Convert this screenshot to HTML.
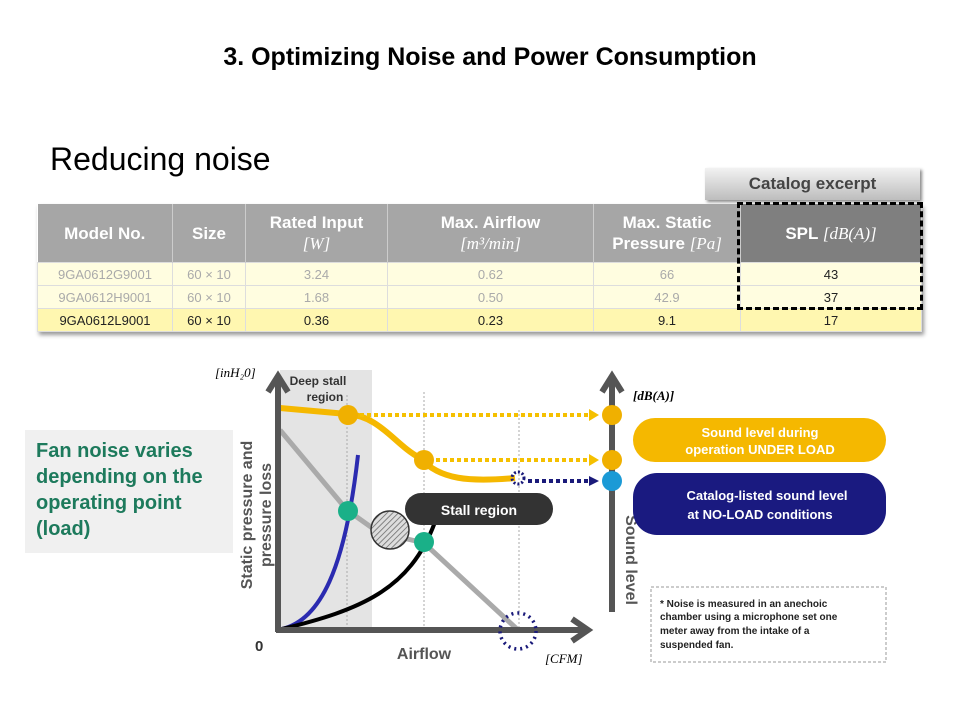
<!DOCTYPE html>
<html><head><meta charset="utf-8"><style>
body{margin:0;width:960px;height:720px;background:#fff;font-family:"Liberation Sans",sans-serif;position:relative;overflow:hidden}
.a{position:absolute}
table{border-collapse:collapse;table-layout:fixed;position:absolute;left:37px;top:204px;width:884px;box-shadow:2px 3px 4px #999}
th{background:#a6a6a6;color:#fff;font-size:17px;font-weight:bold;height:58px;padding:0;border-right:1px solid #ccc;line-height:21px}
th.s{background:#7f7f7f}
td{background:#fffde0;color:#aaa;font-size:13px;text-align:center;height:22px;padding:0;border:1px solid #ddd}
tr.b td{background:#fff7b0;color:#222}
.m{font-family:"Liberation Serif",serif;font-style:italic;font-weight:normal}
</style></head><body>
<div class="a" style="left:0;width:980px;top:43px;text-align:center;font-size:25px;font-weight:bold">3. Optimizing Noise and Power Consumption</div>
<div class="a" style="left:50px;top:141px;font-size:32px">Reducing noise</div>
<div class="a" style="left:705px;top:168px;width:215px;height:32px;background:linear-gradient(#f2f2f2,#bdbdbd);box-shadow:2px 2px 3px #888;text-align:center;line-height:32px;font-size:17px;font-weight:bold;color:#444">Catalog excerpt</div>
<table>
<colgroup><col style="width:135px"><col style="width:73px"><col style="width:142px"><col style="width:206px"><col style="width:147px"><col style="width:181px"></colgroup>
<tr><th>Model No.</th><th>Size</th><th>Rated Input<br><span class="m">[W]</span></th><th>Max. Airflow<br><span class="m">[m³/min]</span></th><th>Max. Static<br>Pressure <span class="m">[Pa]</span></th><th class="s">SPL <span class="m">[dB(A)]</span></th></tr>
<tr><td>9GA0612G9001</td><td>60 × 10</td><td>3.24</td><td>0.62</td><td>66</td><td style="color:#222">43</td></tr>
<tr><td>9GA0612H9001</td><td>60 × 10</td><td>1.68</td><td>0.50</td><td>42.9</td><td style="color:#222">37</td></tr>
<tr class="b"><td>9GA0612L9001</td><td>60 × 10</td><td>0.36</td><td>0.23</td><td>9.1</td><td>17</td></tr>
</table>
<div class="a" style="left:737px;top:202px;width:180px;height:102px;border:3px dashed #000"></div>

<div class="a" style="left:25px;top:430px;width:208px;height:123px;background:#f0f0f0"></div>
<div class="a" style="left:36px;top:438px;font-size:20px;font-weight:bold;color:#1d7a5c;line-height:26px">Fan noise varies<br>depending on the<br>operating point<br>(load)</div>

<svg class="a" style="left:0;top:0" width="960" height="720">
<defs><pattern id="h" width="4" height="4" patternUnits="userSpaceOnUse" patternTransform="rotate(45)"><rect width="4" height="4" fill="#ddd"/><line x1="0" y1="0" x2="0" y2="4" stroke="#666" stroke-width="1.5"/></pattern></defs>
<rect x="280" y="370" width="92" height="260" fill="#e4e4e4"/>
<g stroke="#aaa" stroke-dasharray="2,2"><line x1="347" y1="395" x2="347" y2="630"/><line x1="424" y1="392" x2="424" y2="630"/><line x1="519" y1="410" x2="519" y2="630"/></g>
<path d="M280,408 L347,414 C380,416 395,445 420,458 C440,480 470,482 515,478" stroke="#f5b800" stroke-width="6" fill="none"/>
<path d="M280,430 L347,510 L378,532 L424,543 L518,630" stroke="#aaa" stroke-width="5" fill="none"/>
<path d="M282,629 C320,620 345,570 358,455" stroke="#2b2bb0" stroke-width="4" fill="none"/>
<path d="M282,629 C360,610 410,590 435,522" stroke="#000" stroke-width="4" fill="none"/>
<circle cx="390" cy="530" r="19" fill="url(#h)" stroke="#333" stroke-width="1.5"/>
<rect x="405" y="493" width="148" height="32" rx="16" fill="#333"/>
<text x="479" y="515" fill="#fff" font-size="14" font-weight="bold" text-anchor="middle">Stall region</text>
<path d="M278,632 V380 M268,392 L278,376 L288,392" stroke="#555" stroke-width="6" fill="none"/>
<path d="M276,630 H585 M572,619 L588,630 L572,641" stroke="#555" stroke-width="6" fill="none"/>
<path d="M612,612 V378 M602,392 L612,376 L622,392" stroke="#555" stroke-width="6" fill="none"/>
<g stroke-width="4" stroke-dasharray="4,3" fill="none"><line x1="360" y1="415" x2="590" y2="415" stroke="#f5c000"/><line x1="436" y1="460" x2="590" y2="460" stroke="#f5c000"/><line x1="528" y1="481" x2="590" y2="481" stroke="#1a1a7a"/></g>
<path d="M589,409 L599,415 L589,421Z M589,454 L599,460 L589,466Z" fill="#f5c000"/><path d="M589,476 L599,481 L589,486Z" fill="#1a1a7a"/>
<circle cx="518" cy="478" r="6" fill="none" stroke="#1a1a7a" stroke-width="3" stroke-dasharray="2,2"/>
<circle cx="518" cy="631" r="18" fill="none" stroke="#1a1a7a" stroke-width="3.5" stroke-dasharray="2,4"/>
<g fill="#f0b000"><circle cx="348" cy="415" r="10"/><circle cx="424" cy="460" r="10"/><circle cx="612" cy="415" r="10"/><circle cx="612" cy="460" r="10"/></g>
<circle cx="612" cy="481" r="10" fill="#1b9ad6"/>
<g fill="#1ab088"><circle cx="348" cy="511" r="10"/><circle cx="424" cy="542" r="10"/></g>
<text x="318" y="385" font-size="12" font-weight="bold" fill="#333" text-anchor="middle">Deep stall</text>
<text x="325" y="401" font-size="12" font-weight="bold" fill="#333" text-anchor="middle">region</text>
<text x="215" y="377" font-size="13" font-family="Liberation Serif" font-style="italic">[inH₂0]</text>
<text x="633" y="400" font-size="13" font-family="Liberation Serif" font-style="italic" font-weight="bold">[dB(A)]</text>
<text x="545" y="663" font-size="13" font-family="Liberation Serif" font-style="italic">[CFM]</text>
<text x="255" y="651" font-size="15" font-weight="bold" fill="#333">0</text>
<text x="424" y="659" font-size="16" font-weight="bold" fill="#555" text-anchor="middle">Airflow</text>
<text transform="translate(252,515) rotate(-90)" font-size="16" font-weight="bold" fill="#555" text-anchor="middle">Static pressure and</text>
<text transform="translate(271,515) rotate(-90)" font-size="16" font-weight="bold" fill="#555" text-anchor="middle">pressure loss</text>
<text transform="translate(626,560) rotate(90)" font-size="16" font-weight="bold" fill="#555" text-anchor="middle">Sound level</text>
<rect x="633" y="418" width="253" height="44" rx="22" fill="#f5b800"/>
<text x="760" y="437" font-size="13" font-weight="bold" fill="#fff" text-anchor="middle">Sound level during</text>
<text x="760" y="454" font-size="13" font-weight="bold" fill="#fff" text-anchor="middle">operation UNDER LOAD</text>
<rect x="633" y="473" width="253" height="62" rx="24" fill="#1a1a80"/>
<text x="767" y="500" font-size="13" font-weight="bold" fill="#fff" text-anchor="middle">Catalog-listed sound level</text>
<text x="760" y="519" font-size="13" font-weight="bold" fill="#fff" text-anchor="middle">at NO-LOAD conditions</text>
<rect x="651" y="587" width="235" height="75" fill="none" stroke="#999" stroke-dasharray="3,2"/>
<g font-size="10" font-weight="bold" fill="#222"><text x="660" y="607">* Noise is measured in an anechoic</text><text x="660" y="620">chamber using a microphone set one</text><text x="660" y="634">meter away from the intake of a</text><text x="660" y="648">suspended fan.</text></g>
</svg>
</body></html>
